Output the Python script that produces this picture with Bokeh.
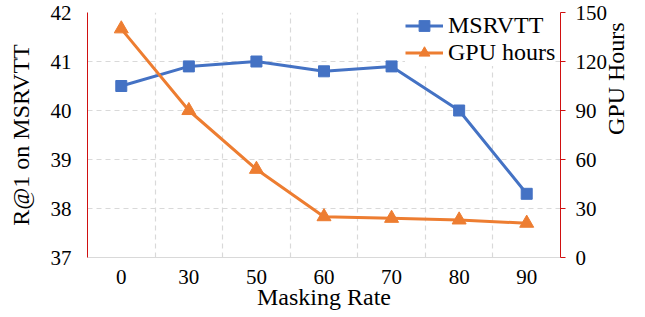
import math
from bokeh.plotting import figure
from bokeh.models import Range1d, LinearAxis, FixedTicker, Legend, LegendItem
from bokeh.embed import file_html
from bokeh.resources import INLINE

rates = ["0", "30", "50", "60", "70", "80", "90"]
msrvtt = [40.5, 40.9, 41.0, 40.8, 40.9, 40.0, 38.3]
gpu_hours = [140, 90, 54, 25, 24, 23, 21]
left_ticks = [37, 38, 39, 40, 41, 42]
right_ticks = [0, 30, 60, 90, 120, 150]

FONT = "Liberation Serif"
RED = "#D01010"
GRID = "#D9D9D9"
BLUE = "#4472C4"
ORANGE = "#ED7D31"

idx = list(range(len(rates)))

p = figure(width=645, height=317, output_backend="svg", toolbar_location=None,
           x_range=Range1d(-0.5, len(rates) - 0.5), y_range=Range1d(37, 42),
           min_border_left=87, min_border_right=77, min_border_top=12, min_border_bottom=60)
p.outline_line_color = None
p.background_fill_color = "white"

# x axis
xa = p.xaxis[0]
xa.ticker = FixedTicker(ticks=idx)
xa.major_label_overrides = {i: r for i, r in enumerate(rates)}
xa.major_tick_out = 0
xa.major_tick_in = 0
xa.minor_tick_out = 0
xa.minor_tick_in = 0
xa.axis_line_color = GRID
xa.major_label_text_font = FONT
xa.major_label_text_font_size = "21px"
xa.major_label_text_color = "black"
xa.major_label_standoff = 12
xa.axis_label = "Masking Rate"
xa.axis_label_text_font = FONT
xa.axis_label_text_font_size = "24px"
xa.axis_label_text_font_style = "normal"
xa.axis_label_text_color = "black"
xa.axis_label_standoff = -3

# left axis
ya = p.yaxis[0]
ya.ticker = FixedTicker(ticks=left_ticks)
ya.major_tick_out = 0
ya.major_tick_in = 0
ya.minor_tick_out = 0
ya.minor_tick_in = 0
ya.axis_line_color = RED
ya.major_label_text_font = FONT
ya.major_label_text_font_size = "21px"
ya.major_label_text_color = "black"
ya.major_label_standoff = 16
ya.axis_label = "R@1 on MSRVTT"
ya.axis_label_text_font = FONT
ya.axis_label_text_font_size = "24px"
ya.axis_label_text_font_style = "normal"
ya.axis_label_text_color = "black"
ya.axis_label_standoff = 14

# right axis (title reads bottom-to-top)
p.extra_y_ranges = {"gpu": Range1d(0, 150)}
ra = LinearAxis(y_range_name="gpu", ticker=FixedTicker(ticks=right_ticks))
ra.major_tick_out = 5
ra.major_tick_in = 0
ra.minor_tick_out = 0
ra.minor_tick_in = 0
ra.axis_line_color = RED
ra.major_tick_line_color = RED
ra.major_label_text_font = FONT
ra.major_label_text_font_size = "21px"
ra.major_label_text_color = "black"
ra.major_label_standoff = 10
ra.axis_label = "GPU Hours"
ra.axis_label_text_font = FONT
ra.axis_label_text_font_size = "24px"
ra.axis_label_text_font_style = "normal"
ra.axis_label_text_color = "black"
ra.axis_label_text_line_height = 0.6
ra.axis_label_standoff = 6
ra.axis_label_orientation = math.pi / 2
p.add_layout(ra, "right")

# grids
p.xgrid.ticker = FixedTicker(ticks=[i + 0.5 for i in idx[:-1]])
for g in (p.xgrid, p.ygrid):
    g.grid_line_color = GRID
    g.grid_line_dash = "5 4"
    g.grid_line_width = 1.2

# data
r1 = p.line(idx, msrvtt, line_color=BLUE, line_width=3)
s1 = p.scatter(idx, msrvtt, marker="square", size=11, fill_color=BLUE, line_color=BLUE)
r2 = p.line(idx, gpu_hours, y_range_name="gpu", line_color=ORANGE, line_width=3)
s2 = p.scatter(idx, gpu_hours, y_range_name="gpu", marker="triangle", size=14,
               fill_color=ORANGE, line_color=ORANGE)

legend = Legend(items=[LegendItem(label="MSRVTT", renderers=[r1, s1]),
                       LegendItem(label="GPU hours", renderers=[r2, s2])],
                location=(318, 191))
legend.label_text_font = FONT
legend.label_text_font_size = "24px"
legend.label_text_color = "black"
legend.border_line_color = None
legend.background_fill_color = "white"
legend.background_fill_alpha = 1.0
legend.padding = 0
legend.spacing = 0
legend.margin = 0
legend.glyph_width = 38
legend.glyph_height = 27
legend.label_height = 27
legend.label_standoff = 5
p.add_layout(legend)

open("out.html", "w").write(file_html(p, INLINE))
